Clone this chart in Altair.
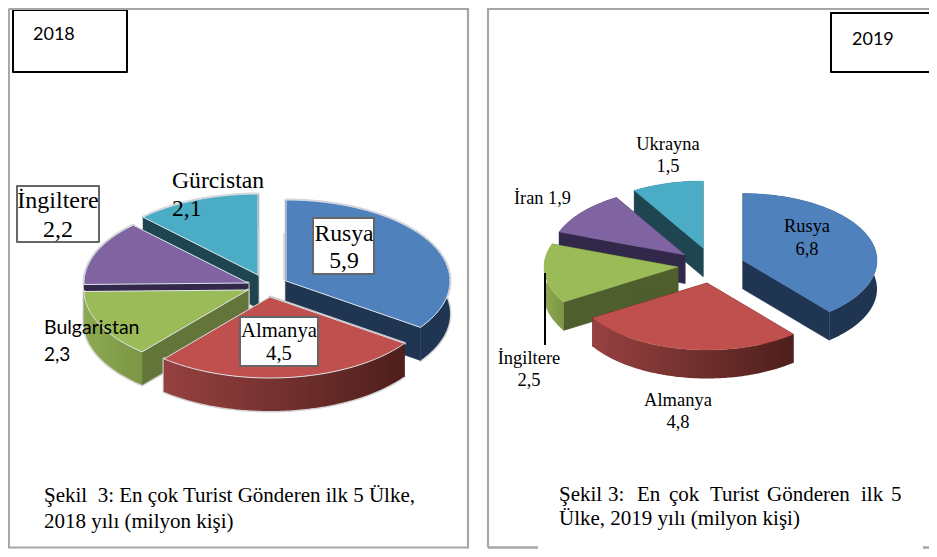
import math
import altair as alt

# ---- data
countries_2018 = ["Rusya", "Almanya", "Bulgaristan", "İngiltere", "Gürcistan"]
values_2018 = [5.9, 4.5, 2.3, 2.2, 2.1]
countries_2019 = ["Rusya", "Almanya", "İngiltere", "İran", "Ukrayna"]
values_2019 = [6.8, 4.8, 2.5, 1.9, 1.5]

# ---- slice styling, in slice order
top_colors = ["#4F81BD", "#C0504D", "#9BBB59", "#8064A2", "#4BACC6"]
wall_colors_18 = ["#1F3552", "#4E1F1C", "#64753A", "#32284A", "#1F4650"]
wall_colors_19 = ["#1F3552", "#4E1F1C", "#4E5E2C", "#32284A", "#1F4650"]
band_left = ["#1F3552", "#964140", "#8DAA50", "#32284A", "#1F4650"]
band_right = ["#1F3552", "#4E1F1C", "#7B9645", "#32284A", "#1F4650"]

# ---- pie layout (exploded apex of each slice, ellipse radii, extrusion)
apex_18 = [(286, 281), (270, 297), (248, 290), (248, 283), (258, 275)]
apex_19 = [(743, 260.5), (707, 283), (678, 267), (685, 255), (703, 248)]
order_18 = [4, 3, 0, 2, 1]
order_19 = [4, 3, 2, 0, 1]

PROJ = dict(type="identity", scale=1, translate=[-8, -8])


def poly(points, fill, stroke=None, width=0.6):
    pts = [list(p) for p in points]
    pts.append(pts[0])
    return {
        "type": "Feature",
        "geometry": {"type": "Polygon", "coordinates": [pts]},
        "properties": {"fill": fill, "stroke": stroke or fill, "sw": width},
    }


def line(points, stroke, width):
    return {
        "type": "Feature",
        "geometry": {"type": "LineString", "coordinates": [list(p) for p in points]},
        "properties": {"stroke": stroke, "sw": width},
    }


def solid_layer(features):
    return (
        alt.Chart(alt.Data(values=features))
        .mark_geoshape(strokeJoin="round")
        .encode(
            fill=alt.Fill("properties.fill:N", scale=None, legend=None),
            stroke=alt.Stroke("properties.stroke:N", scale=None, legend=None),
            strokeWidth=alt.StrokeWidth("properties.sw:Q", scale=None, legend=None),
        )
        .project(**PROJ)
    )


def band_layer(feature, left, right):
    grad = alt.LinearGradient(
        gradient="linear",
        stops=[alt.GradientStop(offset=0, color=left), alt.GradientStop(offset=1, color=right)],
        x1=0, x2=1, y1=0, y2=0,
    )
    return (
        alt.Chart(alt.Data(values=[feature]))
        .mark_geoshape(fill=grad, strokeWidth=0)
        .project(**PROJ)
    )


def pie(values, apexes, order, a, b, depth, walls, edge, halo):
    total = sum(values)
    layers = []
    start = 0.0
    spans = []
    for v in values:
        spans.append((start, start + v / total * 2 * math.pi))
        start = spans[-1][1]
    for i in order:
        t0, t1 = spans[i]
        cx, cy = apexes[i]
        n = max(24, int((t1 - t0) * 60))
        ts = [t0 + (t1 - t0) * k / n for k in range(n + 1)]
        arc = [(cx + a * math.sin(t), cy - b * math.cos(t)) for t in ts]
        low = [(x, y + depth) for x, y in arc]
        apex_low = (cx, cy + depth)
        under = []
        if halo:
            under.append(poly([(cx, cy)] + arc + low[::-1] + [apex_low], "#d4d4d4", "#d4d4d4", 3))
        under.append(poly([(cx, cy), arc[0], low[0], apex_low], walls[i]))
        under.append(poly([(cx, cy), arc[-1], low[-1], apex_low], walls[i]))
        layers.append(solid_layer(under))
        # outer band, shaded from left to right
        layers.append(band_layer(poly(arc + low[::-1], band_left[i]), band_left[i], band_right[i]))
        # top face
        layers.append(solid_layer([poly([(cx, cy)] + arc, top_colors[i], edge or top_colors[i], 1.0 if edge else 0.4)]))
    return layers


def box(x0, y0, x1, y1, stroke, w):
    return poly([(x0, y0), (x1, y0), (x1, y1), (x0, y1)], "#ffffff", stroke, w)


boxes = [
    box(313, 218, 374, 274, "#666666", 2),
    box(240, 317, 318, 366, "#666666", 2),
    box(17, 186, 99, 242, "#666666", 2),
    box(13, 10, 127, 72, "#000000", 2),
    box(831, 13, 945, 72, "#000000", 2),
]

lines = [
    line([(8.8, 8.8), (468, 8.8), (468, 547.5), (8.8, 547.5), (8.8, 8.8)], "#a6a6a6", 2.2),
    line([(488, 547.5), (488, 8.8), (945, 8.8)], "#a6a6a6", 2.2),
    line([(488, 547.5), (538, 547.5)], "#a6a6a6", 2.5),
    line([(923, 547.5), (945, 547.5)], "#a6a6a6", 2.5),
    line([(545, 273), (545, 345)], "#000000", 2),
    line([(259, 227), (259, 277)], "#d0d0d0", 1.5),
    line([(284, 233), (284, 280)], "#d0d0d0", 1.5),
]

serif = [
    ("Gürcistan", 172, 188, 23.7, "left"),
    ("2,1", 172, 216, 23.7, "left"),
    ("İngiltere", 58, 208, 24, "center"),
    ("2,2", 58, 237, 24, "center"),
    ("Rusya", 344, 241, 23.7, "center"),
    ("5,9", 344, 268, 23.7, "center"),
    ("Almanya", 279, 337, 20.7, "center"),
    ("4,5", 279, 360, 20.7, "center"),
    ("Şekil\u00a0\u00a03: En çok Turist Gönderen ilk 5 Ülke,", 44, 502, 21, "left"),
    ("2018 yılı (milyon kişi)", 44, 528, 21, "left"),
    ("Ukrayna", 668, 150, 18.4, "center"),
    ("1,5", 668, 172, 18.4, "center"),
    ("İran 1,9", 514, 204, 18.3, "left"),
    ("Rusya", 807, 232, 18.4, "center"),
    ("6,8", 807, 255, 18.4, "center"),
    ("İngiltere", 529, 364, 18.5, "center"),
    ("2,5", 529, 386, 18.5, "center"),
    ("Almanya", 678, 406, 18.5, "center"),
    ("4,8", 678, 428, 18.5, "center"),
    ("Şekil", 559, 501, 21, "left"),
    ("3:", 608, 501, 21, "left"),
    ("En", 637, 501, 21, "left"),
    ("çok", 669, 501, 21, "left"),
    ("Turist", 710, 501, 21, "left"),
    ("Gönderen", 767, 501, 21, "left"),
    ("ilk", 861, 501, 21, "left"),
    ("5", 891, 501, 21, "left"),
    ("Ülke, 2019 yılı (milyon kişi)", 559, 525, 21, "left"),
]
sans = [
    ("2018", 33, 40, 18, "left"),
    ("2019", 852, 45, 18, "left"),
    ("Bulgaristan", 44, 334, 19.5, "left"),
    ("2,3", 44, 361, 19, "left"),
]


def rows(items):
    return [{"t": t, "x": x, "y": y, "s": s, "al": al} for t, x, y, s, al in items]


def text_layer(items, font, align):
    return (
        alt.Chart(alt.Data(values=[r for r in rows(items) if r["al"] == align]))
        .mark_text(font=font, align=align, baseline="alphabetic", color="#000000")
        .encode(
            longitude="x:Q",
            latitude="y:Q",
            text="t:N",
            size=alt.Size("s:Q", scale=None, legend=None),
        )
        .project(**PROJ)
    )


line_layer = (
    alt.Chart(alt.Data(values=lines))
    .mark_geoshape(filled=False)
    .encode(
        stroke=alt.Stroke("properties.stroke:N", scale=None, legend=None),
        strokeWidth=alt.StrokeWidth("properties.sw:Q", scale=None, legend=None),
    )
    .project(**PROJ)
)

layers = []
layers += pie(values_2018, apex_18, order_18, 164, 81, 33, wall_colors_18, "#dfe6ee", True)
layers += pie(values_2019, apex_19, order_19, 134, 67, 28.5, wall_colors_19, None, False)
layers += [
    solid_layer(boxes),
    line_layer,
    text_layer(serif, "Liberation Serif", "left"),
    text_layer(serif, "Liberation Serif", "center"),
    text_layer(sans, "Lato", "left"),
]

chart = (
    alt.layer(*layers)
    .properties(
        width=921,
        height=541,
        padding=0,
        autosize=alt.AutoSizeParams(type="none"),
        background="#ffffff",
    )
    .configure_view(stroke=None)
)

chart.save("out.html", embed_options={"renderer": "svg", "actions": False})
